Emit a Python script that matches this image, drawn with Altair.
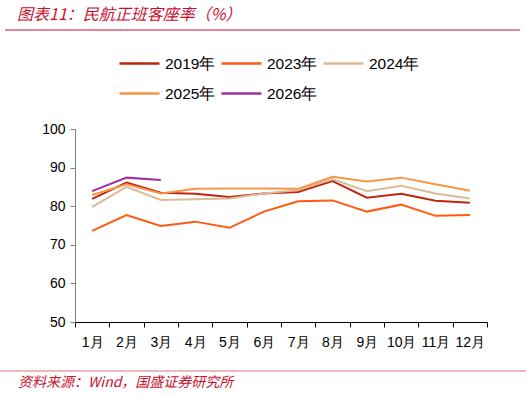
import altair as alt
import pandas as pd

months = ["1月", "2月", "3月", "4月", "5月", "6月", "7月", "8月", "9月", "10月", "11月", "12月"]
series_names = ["2019年", "2023年", "2024年", "2025年", "2026年"]
v2019 = [81.9, 86.1, 83.5, 83.2, 82.4, 83.3, 83.7, 86.5, 82.2, 83.2, 81.4, 80.9]
v2023 = [73.6, 77.7, 74.9, 76.0, 74.4, 78.6, 81.3, 81.5, 78.6, 80.4, 77.5, 77.7]
v2024 = [79.8, 85.0, 81.6, 81.8, 82.0, 83.3, 84.2, 87.0, 83.9, 85.3, 83.3, 82.0]
v2025 = [82.9, 85.7, 83.3, 84.5, 84.6, 84.6, 84.5, 87.6, 86.4, 87.4, 85.7, 84.0]
v2026 = [83.9, 87.4, 86.8]
colors = ["#C0260F", "#FF5A14", "#D9BC97", "#F79646", "#A0309F"]
y_ticks = [50, 60, 70, 80, 90, 100]
title_text = "图表11：民航正班客座率（%）"
source_text = "资料来源：Wind，国盛证券研究所"

rows = []
for name, vals in zip(series_names, [v2019, v2023, v2024, v2025, v2026]):
    for m, v in zip(months, vals):
        rows.append({"month": m, "value": v, "series": name})
df = pd.DataFrame(rows)

lines = alt.Chart(df).mark_line(strokeWidth=2).encode(
    x=alt.X("month:O", sort=months, bandPosition=0.5,
            scale=alt.Scale(type="band", paddingInner=0, paddingOuter=0),
            axis=alt.Axis(title=None, labelAngle=0, tickBand="extent", tickSize=5,
                          domainColor="#000000", tickColor="#000000",
                          labelFont="Liberation Sans", labelFontSize=14,
                          labelColor="#000000", labelPadding=8)),
    y=alt.Y("value:Q", scale=alt.Scale(domain=[50, 100], nice=False, zero=False),
            axis=alt.Axis(title=None, values=y_ticks, grid=False, tickSize=5,
                          domainColor="#808080", tickColor="#808080",
                          labelFont="Liberation Sans", labelFontSize=14,
                          labelColor="#000000", labelPadding=5)),
    color=alt.Color("series:N", sort=series_names,
                    scale=alt.Scale(domain=series_names, range=colors),
                    legend=alt.Legend(title=None, orient="none", legendX=43, legendY=-87,
                                      direction="horizontal",
                                      columns=3, symbolType="stroke", symbolSize=1600,
                                      symbolStrokeWidth=2.5, labelFont="Liberation Sans",
                                      labelFontSize=15.5, labelColor="#000000",
                                      labelOffset=4, columnPadding=0, rowPadding=-8,
                                      padding=0, labelLimit=200)),
)

one = pd.DataFrame({"a": [0]})

title = alt.Chart(one).mark_text(
    text=title_text, align="left", baseline="middle", font="Noto Sans CJK SC",
    fontSize=16, fontStyle="italic", color="#C8102E"
).encode(x=alt.value(-58), y=alt.value(-114))

top_rule = alt.Chart(one).mark_rule(color="#C8102E", strokeWidth=1.2).encode(
    x=alt.value(-70), x2=alt.value(445), y=alt.value(-99))

bottom_rule = alt.Chart(one).mark_rule(color="#E07080", strokeWidth=1.2).encode(
    x=alt.value(-75), x2=alt.value(451), y=alt.value(242))

source = alt.Chart(one).mark_text(
    text=source_text, align="left", baseline="middle", font="Noto Sans CJK SC",
    fontSize=14, fontStyle="italic", color="#C8102E"
).encode(x=alt.value(-57), y=alt.value(254))

chart = alt.layer(lines, title, top_rule, bottom_rule, source).properties(
    width=412, height=193,
    autosize=alt.AutoSizeParams(type="none"),
    padding={"left": 75, "top": 129, "right": 39, "bottom": 74},
    background="#ffffff",
).configure_view(stroke=None)

chart.save("out.html", embed_options={"renderer": "svg", "actions": False})
